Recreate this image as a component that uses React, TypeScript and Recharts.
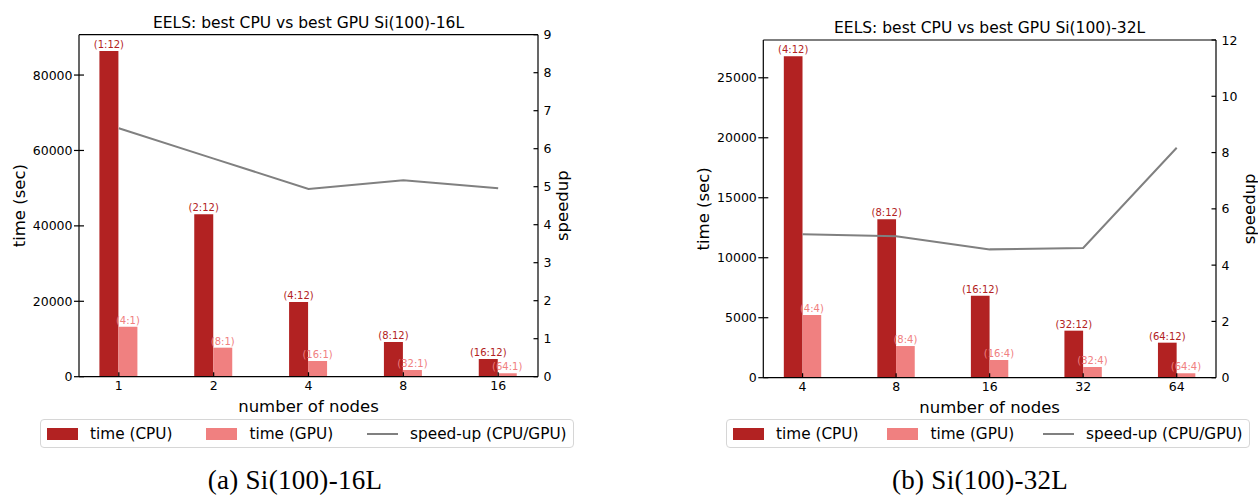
import { ComposedChart, Bar, Line, XAxis, YAxis, LabelList, ReferenceLine } from "recharts";

// Si(100)-16L
const nodes16 = ["1", "2", "4", "8", "16"];
const cpuTime16 = [86400, 43100, 19800, 9200, 4700];
const gpuTime16 = [13250, 7700, 4170, 1780, 900];
const speedup16 = [6.54, 5.74, 4.94, 5.17, 4.96];
const cpuConf16 = ["(1:12)", "(2:12)", "(4:12)", "(8:12)", "(16:12)"];
const gpuConf16 = ["(4:1)", "(8:1)", "(16:1)", "(32:1)", "(64:1)"];
const timeTicks16 = [0, 20000, 40000, 60000, 80000];
const speedTicks16 = [0, 1, 2, 3, 4, 5, 6, 7, 8, 9];

// Si(100)-32L
const nodes32 = ["4", "8", "16", "32", "64"];
const cpuTime32 = [26800, 13200, 6830, 3920, 2920];
const gpuTime32 = [5220, 2640, 1475, 890, 370];
const speedup32 = [5.1, 5.03, 4.56, 4.61, 8.17];
const cpuConf32 = ["(4:12)", "(8:12)", "(16:12)", "(32:12)", "(64:12)"];
const gpuConf32 = ["(4:4)", "(8:4)", "(16:4)", "(32:4)", "(64:4)"];
const timeTicks32 = [0, 5000, 10000, 15000, 20000, 25000];
const speedTicks32 = [0, 2, 4, 6, 8, 10, 12];

const legendLabels = ["time (CPU)", "time (GPU)", "speed-up (CPU/GPU)"];

const CPU_COLOR = "#b22222";
const GPU_COLOR = "#f08080";
const LINE_COLOR = "#808080";
const FONT = "DejaVu Sans";
const CH = 400;

const XTick = ({ x, payload, base }: any) => (
  <g>
    <line x1={x} x2={x} y1={base - 4.5} y2={base} stroke="#000" strokeWidth={1.2} />
    <text x={x} y={base + 13.7} textAnchor="middle" fontSize={12.5} fontFamily={FONT} fill="#000">
      {payload.value}
    </text>
  </g>
);

const LeftTick = ({ y, payload, ax }: any) => (
  <g>
    <line x1={ax - 5} x2={ax + 5} y1={y} y2={y} stroke="#000" strokeWidth={1.2} />
    <text x={ax - 6.5} y={y} dy="0.36em" textAnchor="end" fontSize={12.5} fontFamily={FONT} fill="#000">
      {payload.value}
    </text>
  </g>
);

const RightTick = ({ y, payload, ax }: any) => (
  <g>
    <line x1={ax - 4.5} x2={ax} y1={y} y2={y} stroke="#000" strokeWidth={1.2} />
    <text x={ax + 5.5} y={y} dy="0.36em" textAnchor="start" fontSize={12.5} fontFamily={FONT} fill="#000">
      {payload.value}
    </text>
  </g>
);

function Panel(p: any) {
  const data = p.nodes.map((n: string, i: number) => ({
    n,
    cpu: p.cpu[i],
    gpu: p.gpu[i],
    sp: p.speedup[i],
    cpuConf: p.cpuConf[i],
    gpuConf: p.gpuConf[i],
  }));
  const unit = (p.plotRight - p.plotLeft) / 4.84;
  const pad = -0.08 * unit;
  const cx = (p.plotLeft + p.plotRight) / 2;
  const cy = (p.plotTop + p.plotBottom) / 2;
  const axisLine = { stroke: "#000", strokeWidth: 1.2 };

  return (
    <div style={{ position: "absolute", left: p.left, top: 0, width: p.width, height: 495 }}>
      <ComposedChart
        width={p.width}
        height={CH}
        data={data}
        barGap={0}
        margin={{ top: p.plotTop, left: 0, right: p.width - p.plotRight - 40, bottom: CH - p.plotBottom - 22 }}
      >
        <XAxis
          dataKey="n"
          height={22}
          interval={0}
          padding={{ left: pad, right: pad }}
          axisLine={axisLine}
          tickLine={false}
          tick={(t: any) => <XTick {...t} base={p.plotBottom} />}
        />
        <YAxis
          yAxisId="t"
          orientation="left"
          width={p.plotLeft}
          domain={[0, p.timeMax]}
          ticks={p.timeTicks}
          axisLine={axisLine}
          tickLine={false}
          tick={(t: any) => <LeftTick {...t} ax={p.plotLeft} />}
        />
        <YAxis
          yAxisId="s"
          orientation="right"
          width={40}
          domain={[0, p.speedMax]}
          ticks={p.speedTicks}
          axisLine={axisLine}
          tickLine={false}
          tick={(t: any) => <RightTick {...t} ax={p.plotRight} />}
        />
        <ReferenceLine yAxisId="t" y={p.timeMax} stroke="#000" strokeWidth={1.2} />
        <Bar yAxisId="t" dataKey="cpu" fill={CPU_COLOR} barSize={p.barSize} isAnimationActive={false}>
          <LabelList dataKey="cpuConf" position="top" offset={3} fill={CPU_COLOR} fontSize={10} fontFamily={FONT} />
        </Bar>
        <Bar yAxisId="t" dataKey="gpu" fill={GPU_COLOR} barSize={p.barSize} isAnimationActive={false}>
          <LabelList dataKey="gpuConf" position="top" offset={3} fill={GPU_COLOR} fontSize={10} fontFamily={FONT} />
        </Bar>
        <Line
          yAxisId="s"
          dataKey="sp"
          type="linear"
          stroke={LINE_COLOR}
          strokeWidth={2}
          dot={false}
          isAnimationActive={false}
        />
      </ComposedChart>

      <svg
        width={p.width}
        height={495}
        style={{ position: "absolute", left: 0, top: 0, pointerEvents: "none" }}
      >
        <text x={cx} y={p.plotTop - 7} textAnchor="middle" fontSize={15.5} fontFamily={FONT} fill="#000">
          {p.title}
        </text>
        <text x={cx} y={p.plotBottom + 35.5} textAnchor="middle" fontSize={16.5} fontFamily={FONT} fill="#000">
          number of nodes
        </text>
        <text
          x={p.timeLabelX + 5}
          y={cy}
          transform={`rotate(-90 ${p.timeLabelX + 5} ${cy})`}
          textAnchor="middle"
          fontSize={16.5}
          fontFamily={FONT}
          fill="#000"
        >
          time (sec)
        </text>
        <text
          x={p.speedLabelX + 4.3}
          y={cy}
          transform={`rotate(-90 ${p.speedLabelX + 4.3} ${cy})`}
          textAnchor="middle"
          fontSize={16.5}
          fontFamily={FONT}
          fill="#000"
        >
          speedup
        </text>
        <text
          x={p.captionX}
          y={489}
          textAnchor="middle"
          fontSize={27}
          fontFamily="Liberation Serif"
          letterSpacing={0.3}
          fill="#000"
        >
          {p.caption}
        </text>
      </svg>

      <div
        style={{
          position: "absolute",
          left: p.legendLeft,
          top: 419,
          height: 29,
          boxSizing: "border-box",
          display: "flex",
          alignItems: "center",
          padding: "0 6px",
          border: "1px solid #d6d6d6",
          borderRadius: 4,
          fontFamily: FONT,
          fontSize: 15.3,
          color: "#000",
          background: "#fff",
          whiteSpace: "nowrap",
        }}
      >
        {legendLabels.map((label, i) => (
          <div key={label} style={{ display: "flex", alignItems: "center", marginRight: i < 2 ? p.legendGap : 0 }}>
            {i < 2 ? (
              <div style={{ width: 31, height: 12, background: i === 0 ? CPU_COLOR : GPU_COLOR }} />
            ) : (
              <div style={{ width: 31, height: 2, background: LINE_COLOR }} />
            )}
            <span style={{ marginLeft: 12 }}>{label}</span>
          </div>
        ))}
      </div>
    </div>
  );
}

export default function App() {
  return (
    <div style={{ position: "absolute", left: 0, top: 0, width: 1258, height: 495, background: "#fff" }}>
      <Panel
        left={0}
        width={600}
        plotLeft={79}
        plotRight={538}
        plotTop={34.7}
        plotBottom={376.7}
        nodes={nodes16}
        cpu={cpuTime16}
        gpu={gpuTime16}
        speedup={speedup16}
        cpuConf={cpuConf16}
        gpuConf={gpuConf16}
        timeMax={90700}
        timeTicks={timeTicks16}
        speedMax={9}
        speedTicks={speedTicks16}
        barSize={19}
        title="EELS: best CPU vs best GPU Si(100)-16L"
        caption="(a) Si(100)-16L"
        captionX={295}
        timeLabelX={20}
        speedLabelX={564}
        legendLeft={40}
        legendGap={34}
      />
      <Panel
        left={640}
        width={618}
        plotLeft={123.3}
        plotRight={576}
        plotTop={40}
        plotBottom={377.7}
        nodes={nodes32}
        cpu={cpuTime32}
        gpu={gpuTime32}
        speedup={speedup32}
        cpuConf={cpuConf32}
        gpuConf={gpuConf32}
        timeMax={28150}
        timeTicks={timeTicks32}
        speedMax={12}
        speedTicks={speedTicks32}
        barSize={18.7}
        title="EELS: best CPU vs best GPU Si(100)-32L"
        caption="(b) Si(100)-32L"
        captionX={340}
        timeLabelX={64}
        speedLabelX={611}
        legendLeft={86}
        legendGap={29}
      />
    </div>
  );
}
